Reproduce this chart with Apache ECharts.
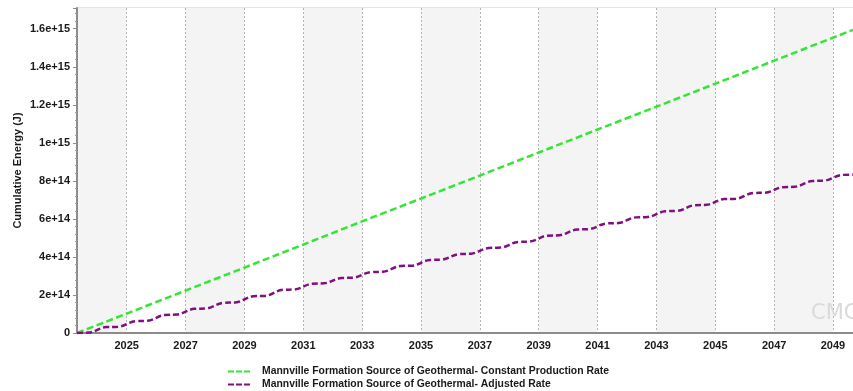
<!DOCTYPE html>
<html>
<head>
<meta charset="utf-8">
<script src="https://cdn.jsdelivr.net/npm/echarts@6/dist/echarts.min.js"></script>
<style>
    html, body { margin: 0; padding: 0; background: #fff; }
    #chart { width: 853px; height: 391px; }
</style>
</head>
<body>
<div id="chart"></div>
<script>
// 坐标轴范围（十进制年份）
const xStart = 2023.31;
const xEnd = 2049.68;
const yearLabels = [2025, 2027, 2029, 2031, 2033, 2035, 2037, 2039, 2041, 2043, 2045, 2047, 2049];
const yMax = 1.709e15;
const yStep = 2e14;

// 系列名称
const seriesNames = [
    'Mannville Formation Source of Geothermal- Constant Production Rate',
    'Mannville Formation Source of Geothermal- Adjusted Rate'
];

// 恒定产量 - 累计能量 (J)
const constantYears = [2023.31, 2025, 2027, 2029, 2031, 2033, 2035, 2037, 2039, 2041, 2043, 2045, 2047, 2049, 2049.68];
const constantValues = [0, 1.02e14, 2.23e14, 3.44e14, 4.65e14, 5.87e14, 7.07e14, 8.28e14, 9.49e14, 1.07e15, 1.19e15, 1.311e15, 1.432e15, 1.553e15, 1.594e15];

// 调整产量 - 累计能量 (J)，夏季平台 / 冬季上升
const adjustedYears = [
    2023.31, 2023.7,
    2024.3, 2024.7, 2025.3, 2025.7, 2026.3, 2026.7, 2027.3, 2027.7, 2028.3, 2028.7,
    2029.3, 2029.7, 2030.3, 2030.7, 2031.3, 2031.7, 2032.3, 2032.7, 2033.3, 2033.7,
    2034.3, 2034.7, 2035.3, 2035.7, 2036.3, 2036.7, 2037.3, 2037.7, 2038.3, 2038.7,
    2039.3, 2039.7, 2040.3, 2040.7, 2041.3, 2041.7, 2042.3, 2042.7, 2043.3, 2043.7,
    2044.3, 2044.7, 2045.3, 2045.7, 2046.3, 2046.7, 2047.3, 2047.7, 2048.3, 2048.7,
    2049.3, 2049.68
];
const adjustedValues = [
    0, 0.2e13,
    3.1e13, 3.3e13, 6.2e13, 6.4e13, 9.5e13, 9.7e13, 12.7e13, 12.9e13, 15.9e13, 16.1e13,
    19.3e13, 19.5e13, 22.7e13, 22.9e13, 25.9e13, 26.1e13, 28.9e13, 29.1e13, 32.0e13, 32.2e13,
    35.2e13, 35.4e13, 38.4e13, 38.6e13, 41.5e13, 41.7e13, 44.7e13, 44.9e13, 47.9e13, 48.1e13,
    51.2e13, 51.4e13, 54.4e13, 54.6e13, 57.6e13, 57.8e13, 60.8e13, 61.0e13, 64.0e13, 64.2e13,
    67.2e13, 67.4e13, 70.4e13, 70.6e13, 73.6e13, 73.8e13, 76.7e13, 76.9e13, 79.9e13, 80.1e13,
    83.1e13, 83.3e13
];

const lineColors = ['#33e633', '#800f80'];

function pairUp(xs, ys) {
    return xs.map((x, i) => [x, ys[i]]);
}

// 格式化Y轴标签为科学计数法
function formatEnergy(v) {
    if (v === 0) return '0';
    const k = v / yStep;
    if (Math.abs(k - Math.round(k)) > 1e-6) return '';
    return Number(v.toPrecision(3)).toExponential();
}

const labelFont = { fontFamily: 'Liberation Sans, Arial, sans-serif', fontWeight: 'bold', fontSize: 11, color: '#1a1a1a' };

// 图例图标：三段虚线
const dashIcon = 'path://M0,0 H6 V2 H0 Z M8,0 H14 V2 H8 Z M16,0 H22 V2 H16 Z';

const myChart = echarts.init(document.getElementById('chart'), null, { renderer: 'canvas' });

const option = {
    animation: false,
    backgroundColor: '#ffffff',
    grid: {
        left: 77,
        right: 0,
        top: 8,
        bottom: 58,
        show: true,
        borderColor: '#c8c8c8',
        borderWidth: 1
    },
    legend: {
        orient: 'vertical',
        left: 228,
        top: 365,
        padding: 0,
        itemWidth: 22,
        itemHeight: 2.5,
        itemGap: 0,
        icon: dashIcon,
        textStyle: Object.assign({}, labelFont, { fontSize: 10.4, lineHeight: 13, padding: [0, 0, 0, 7] }),
        data: seriesNames
    },
    xAxis: {
        type: 'value',
        min: xStart,
        max: xEnd,
        axisLine: { show: true, onZero: false, lineStyle: { color: '#8c8c8c', width: 2 } },
        axisTick: { show: false, customValues: [xStart].concat(yearLabels, [xEnd]) },
        axisLabel: Object.assign({}, labelFont, {
            margin: 7,
            customValues: yearLabels,
            formatter: v => String(Math.round(v))
        }),
        splitLine: { show: true, lineStyle: { color: '#b4b4b4', type: [2, 2], width: 1 } },
        splitArea: { show: true, areaStyle: { color: ['#f4f4f4', '#ffffff'] } }
    },
    yAxis: {
        type: 'value',
        min: 0,
        max: yMax,
        interval: yStep,
        name: 'Cumulative Energy (J)',
        nameLocation: 'middle',
        nameGap: 54,
        nameMoveOverlap: false,
        nameTextStyle: labelFont,
        axisLine: { show: true, lineStyle: { color: '#8c8c8c', width: 2 } },
        axisTick: { show: true, length: 4, lineStyle: { color: '#8c8c8c' } },
        minorTick: { show: true, splitNumber: 5, length: 2, lineStyle: { color: '#9a9a9a' } },
        axisLabel: Object.assign({}, labelFont, { margin: 7, showMaxLabel: false, formatter: formatEnergy }),
        splitLine: { show: true, lineStyle: { color: '#b4b4b4', type: [2, 2], width: 1 } }
    },
    graphic: [{
        type: 'text',
        left: 811,
        top: 303,
        z: 100,
        silent: true,
        style: { text: 'CMG', fontFamily: 'DejaVu Sans, sans-serif', fontSize: 21, fill: '#dadada' }
    }],
    series: [
        {
            name: seriesNames[0],
            type: 'line',
            data: pairUp(constantYears, constantValues),
            symbol: 'none',
            color: lineColors[0],
            lineStyle: { width: 2.5, type: [7, 3.5], color: lineColors[0] }
        },
        {
            name: seriesNames[1],
            type: 'line',
            data: pairUp(adjustedYears, adjustedValues),
            symbol: 'none',
            smooth: 0.4,
            color: lineColors[1],
            lineStyle: { width: 2.5, type: [6, 3], color: lineColors[1] }
        }
    ]
};

myChart.setOption(option);
</script>
</body>
</html>
